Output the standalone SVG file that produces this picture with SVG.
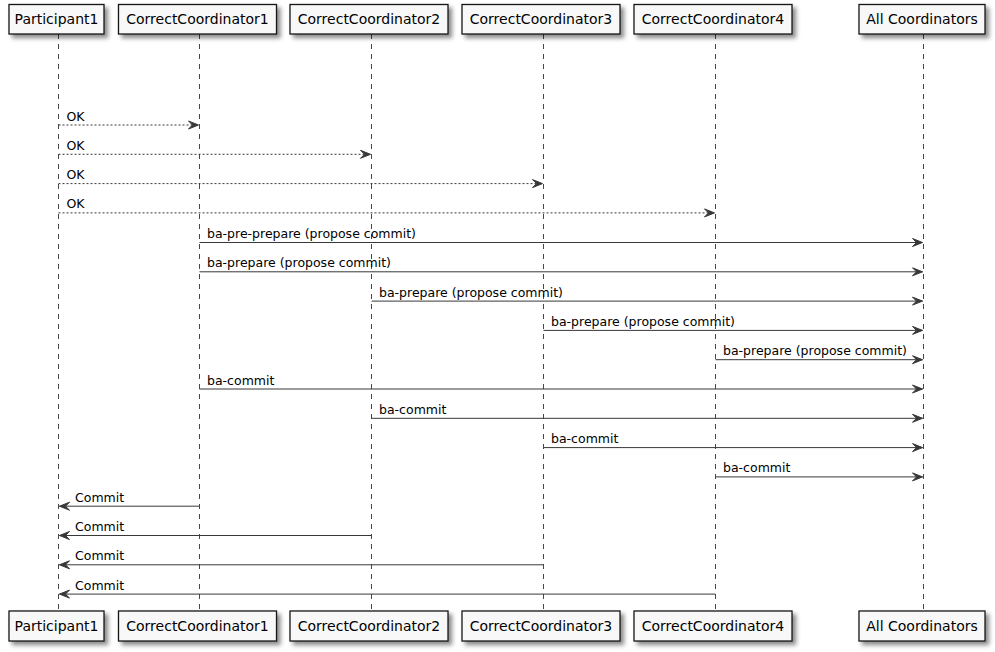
<svg xmlns="http://www.w3.org/2000/svg" width="995" height="652" viewBox="0 0 995 652">
<defs>
<filter id="sh" x="-10%" y="-20%" width="130%" height="160%">
<feDropShadow dx="3.5" dy="3.5" stdDeviation="2" flood-color="#000" flood-opacity="0.45"/>
</filter>
<marker id="ah" viewBox="0 0 10 8" refX="10" refY="4" markerWidth="10" markerHeight="8" markerUnits="userSpaceOnUse" orient="auto" overflow="visible">
<polygon points="0,0 10,4 0,8 4,4" fill="#383838" stroke="#383838" stroke-width="1" stroke-linejoin="miter"/>
</marker>
</defs>
<style>
.box{fill:#F8F8F8;stroke:#181818;stroke-width:1.3;filter:url(#sh)}
.pt{font-family:"DejaVu Sans",sans-serif;font-size:14px;fill:#000;text-anchor:middle}
.life{stroke:#181818;stroke-width:0.8;stroke-dasharray:5,5;fill:none}
.msg{stroke:#383838;stroke-width:1;fill:none;marker-end:url(#ah)}
.dash{stroke-dasharray:2,2}
.lbl{font-family:"DejaVu Sans",sans-serif;font-size:12.5px;fill:#000}
</style>
<rect width="995" height="652" fill="#FFFFFF"/>
<g id="lifelines">
<line class="life" x1="58.5" y1="34" x2="58.5" y2="611"/>
<line class="life" x1="199.5" y1="34" x2="199.5" y2="611"/>
<line class="life" x1="371.5" y1="34" x2="371.5" y2="611"/>
<line class="life" x1="543.5" y1="34" x2="543.5" y2="611"/>
<line class="life" x1="715.5" y1="34" x2="715.5" y2="611"/>
<line class="life" x1="923.5" y1="34" x2="923.5" y2="611"/>
</g>
<g id="participant1">
<rect class="box" x="9" y="4.5" width="95" height="29.5"/>
<text class="pt" x="56.5" y="24">Participant1</text>
<rect class="box" x="9" y="611" width="95" height="30"/>
<text class="pt" x="56.5" y="631">Participant1</text>
</g>
<g id="correctcoordinator1">
<rect class="box" x="118.5" y="4.5" width="158" height="29.5"/>
<text class="pt" x="197.5" y="24">CorrectCoordinator1</text>
<rect class="box" x="118.5" y="611" width="158" height="30"/>
<text class="pt" x="197.5" y="631">CorrectCoordinator1</text>
</g>
<g id="correctcoordinator2">
<rect class="box" x="290" y="4.5" width="158" height="29.5"/>
<text class="pt" x="369" y="24">CorrectCoordinator2</text>
<rect class="box" x="290" y="611" width="158" height="30"/>
<text class="pt" x="369" y="631">CorrectCoordinator2</text>
</g>
<g id="correctcoordinator3">
<rect class="box" x="462" y="4.5" width="158" height="29.5"/>
<text class="pt" x="541" y="24">CorrectCoordinator3</text>
<rect class="box" x="462" y="611" width="158" height="30"/>
<text class="pt" x="541" y="631">CorrectCoordinator3</text>
</g>
<g id="correctcoordinator4">
<rect class="box" x="634" y="4.5" width="158" height="29.5"/>
<text class="pt" x="713" y="24">CorrectCoordinator4</text>
<rect class="box" x="634" y="611" width="158" height="30"/>
<text class="pt" x="713" y="631">CorrectCoordinator4</text>
</g>
<g id="allcoordinators">
<rect class="box" x="859" y="4.5" width="126" height="29.5"/>
<text class="pt" x="922" y="24">All Coordinators</text>
<rect class="box" x="859" y="611" width="126" height="30"/>
<text class="pt" x="922" y="631">All Coordinators</text>
</g>
<g id="connectors">
<line class="msg dash" x1="58.5" y1="125" x2="198.5" y2="125"/>
<line class="msg dash" x1="58.5" y1="154.3" x2="370.5" y2="154.3"/>
<line class="msg dash" x1="58.5" y1="183.6" x2="542.5" y2="183.6"/>
<line class="msg dash" x1="58.5" y1="212.9" x2="714.5" y2="212.9"/>
<line class="msg" x1="199.5" y1="242.5" x2="922.5" y2="242.5"/>
<line class="msg" x1="199.5" y1="271.8" x2="922.5" y2="271.8"/>
<line class="msg" x1="371.5" y1="301.1" x2="922.5" y2="301.1"/>
<line class="msg" x1="543.5" y1="330.4" x2="922.5" y2="330.4"/>
<line class="msg" x1="715.5" y1="359.7" x2="922.5" y2="359.7"/>
<line class="msg" x1="199.5" y1="389" x2="922.5" y2="389"/>
<line class="msg" x1="371.5" y1="418.3" x2="922.5" y2="418.3"/>
<line class="msg" x1="543.5" y1="447.6" x2="922.5" y2="447.6"/>
<line class="msg" x1="715.5" y1="476.9" x2="922.5" y2="476.9"/>
<line class="msg" x1="199.5" y1="506.2" x2="59.5" y2="506.2"/>
<line class="msg" x1="371.5" y1="535.5" x2="59.5" y2="535.5"/>
<line class="msg" x1="543.5" y1="564.8" x2="59.5" y2="564.8"/>
<line class="msg" x1="715.5" y1="594.1" x2="59.5" y2="594.1"/>
</g>
<g id="labels">
<text class="lbl" x="66.5" y="120.5">OK</text>
<text class="lbl" x="66.5" y="149.8">OK</text>
<text class="lbl" x="66.5" y="179.1">OK</text>
<text class="lbl" x="66.5" y="208.4">OK</text>
<text class="lbl" x="207" y="238">ba-pre-prepare (propose commit)</text>
<text class="lbl" x="207" y="267.3">ba-prepare (propose commit)</text>
<text class="lbl" x="379" y="296.6">ba-prepare (propose commit)</text>
<text class="lbl" x="551" y="325.9">ba-prepare (propose commit)</text>
<text class="lbl" x="723" y="355.2">ba-prepare (propose commit)</text>
<text class="lbl" x="207" y="384.5">ba-commit</text>
<text class="lbl" x="379" y="413.8">ba-commit</text>
<text class="lbl" x="551" y="443.1">ba-commit</text>
<text class="lbl" x="723" y="472.4">ba-commit</text>
<text class="lbl" x="75" y="501.7">Commit</text>
<text class="lbl" x="75" y="531">Commit</text>
<text class="lbl" x="75" y="560.3">Commit</text>
<text class="lbl" x="75" y="589.6">Commit</text>
</g>
</svg>
